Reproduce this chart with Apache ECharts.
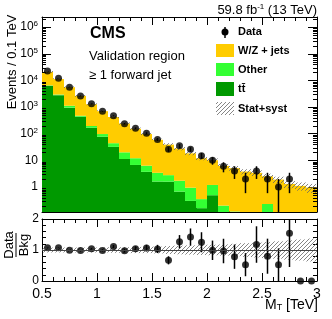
<!DOCTYPE html>
<html><head><meta charset="utf-8">
<script src="https://cdn.jsdelivr.net/npm/echarts@6/dist/echarts.min.js"></script>
<style>html,body{margin:0;padding:0;background:#fff}#c{width:332px;height:319px}</style>
</head><body><div id="c"></div>
<script>
// ---- data (bins of 0.1 TeV) ----
const binLow = [0.5,0.6,0.7,0.8,0.9,1.0,1.1,1.2,1.3,1.4,1.5,1.6,1.7,1.8,1.9,2.0,2.1,2.2,2.3,2.4,2.5,2.6,2.7,2.8,2.9];
const binWidth = 0.1;
const dataCounts = [22400,12000,5500,2580,1330,690,470,237,160,103,61,26,35,26,15,10,6,4,2,4,2,1,2,0,0];
const ttbar  = [6300,2800,950,433,167,77,32,11.2,6.7,3.7,1.6,1.58,0.67,0.30,0.16,0.49,0,0,0,0,0,0,0,0,0];
const other  = [200,150,170,37,27,20,12,8.8,5.3,2.6,1.8,1.2,1.05,0.64,0.19,0.7,0.2,0.12,0,0,0.23,0,0,0,0];
const wzJets = [14400,8250,4440,2160,1086,603,379,222,142,90.7,55.6,36.2,25.9,17.4,11.65,8.9,6.0,4.98,3.8,3.4,2.27,1.9,1.3,1.1,0.95];
const statSyst = [0.08,0.08,0.08,0.08,0.08,0.08,0.09,0.09,0.1,0.1,0.11,0.13,0.14,0.15,0.16,0.17,0.18,0.2,0.22,0.24,0.26,0.28,0.31,0.34,0.37];
const xTickLabels = [0.5,1,1.5,2,2.5,3];
const ratioTickLabels = [0,1,2];

const YMIN = 0.115, YMAX = 2.4e6;
const FONT = 'Liberation Sans, Arial, Helvetica, sans-serif';
const C_WZ = '#ffcc00', C_OTH = '#33ff33', C_TT = '#009900';

const total = binLow.map((_, i) => ttbar[i] + other[i] + wzJets[i]);

function hatchCanvas() {
  const s = 4, c = document.createElement('canvas');
  c.width = s; c.height = s;
  const g = c.getContext('2d');
  g.strokeStyle = '#666'; g.lineWidth = 0.8;
  g.beginPath();
  g.moveTo(0, s); g.lineTo(s, 0);
  g.moveTo(-1, 1); g.lineTo(1, -1);
  g.moveTo(s - 1, s + 1); g.lineTo(s + 1, s - 1);
  g.stroke();
  return c;
}
const HATCH = { image: hatchCanvas(), repeat: 'repeat' };

function cl(v) { return Math.max(v, YMIN); }
function rect(api, x0, x1, y0, y1, style) {
  const p0 = api.coord([x0, y0]), p1 = api.coord([x1, y1]);
  return { type: 'rect', shape: { x: p0[0], y: p1[1], width: p1[0] - p0[0], height: p0[1] - p1[1] }, style: style };
}

const chart = echarts.init(document.getElementById('c'), null, { renderer: 'canvas' });

const axisLineStyle = { lineStyle: { color: '#000', width: 1 } };
function xAx(grid, pos, labels) {
  return {
    type: 'value', gridIndex: grid, position: pos, min: 0.5, max: 3, interval: 0.5,
    axisLine: Object.assign({ show: true, onZero: false }, axisLineStyle),
    axisTick: { show: true, inside: true, length: 8, lineStyle: { color: '#000' } },
    minorTick: { show: true, splitNumber: 5, length: 4, lineStyle: { color: '#000' } },
    splitLine: { show: false },
    axisLabel: labels ? {
      show: true, margin: 6, color: '#000', fontFamily: FONT, fontSize: 14,
      formatter: v => xTickLabels.indexOf(+v.toFixed(2)) >= 0 ? String(+v.toFixed(2)) : ''
    } : { show: false }
  };
}
function yLog(pos, labels) {
  return {
    type: 'log', logBase: 10, gridIndex: 0, position: pos, min: YMIN, max: YMAX,
    axisLine: Object.assign({ show: true, onZero: false }, axisLineStyle),
    axisTick: { show: true, inside: true, length: 9, lineStyle: { color: '#000' } },
    splitLine: { show: false },
    axisLabel: labels ? {
      show: true, margin: 4, color: '#000', fontFamily: FONT, fontSize: 12,
      formatter: v => {
        const e = Math.log10(v), r = Math.round(e);
        if (Math.abs(e - r) > 1e-6) return '';
        if (r === 0) return '{b|1}';
        if (r === 1) return '{b|10}';
        return '{b|10}{s|' + r + '}';
      },
      rich: {
        b: { fontFamily: FONT, fontSize: 12, color: '#000', lineHeight: 14 },
        s: { fontFamily: FONT, fontSize: 8, color: '#000', verticalAlign: 'top', lineHeight: 14, padding: [0, 0, 6, 0] }
      }
    } : { show: false }
  };
}
function yRatio(pos, labels) {
  return {
    type: 'value', gridIndex: 1, position: pos, min: 0, max: 2, interval: 1,
    axisLine: Object.assign({ show: true, onZero: false }, axisLineStyle),
    axisTick: { show: true, inside: true, length: 8, lineStyle: { color: '#000' } },
    minorTick: { show: true, splitNumber: 5, length: 4, lineStyle: { color: '#000' } },
    splitLine: { show: false },
    axisLabel: labels ? { show: true, margin: 3, color: '#000', fontFamily: FONT, fontSize: 12,
      formatter: v => ratioTickLabels.indexOf(v) >= 0 ? String(v) : '' } : { show: false }
  };
}

const option = {
  animation: false,
  backgroundColor: '#fff',
  grid: [
    { left: 42, right: 15, top: 17, height: 195 },
    { left: 42, right: 15, top: 219, height: 62 }
  ],
  xAxis: [xAx(0, 'bottom', false), xAx(0, 'top', false), xAx(1, 'bottom', true), xAx(1, 'top', false)],
  yAxis: [yLog('left', true), yLog('right', false), yRatio('left', true), yRatio('right', false)],
  series: [
    { // stacked histograms
      type: 'custom', xAxisIndex: 0, yAxisIndex: 0, clip: true, silent: true,
      data: binLow.map((x, i) => [x, total[i], i]),
      encode: { x: 0, y: 1 },
      renderItem: (params, api) => {
        const i = api.value(2), x0 = binLow[i], x1 = x0 + binWidth;
        const c1 = ttbar[i], c2 = c1 + other[i], c3 = c2 + wzJets[i];
        const ch = [];
        if (c1 > YMIN) ch.push(rect(api, x0, x1, YMIN, cl(c1), { fill: C_TT }));
        if (c2 > YMIN && c2 > c1) ch.push(rect(api, x0, x1, cl(c1), cl(c2), { fill: C_OTH }));
        if (c3 > YMIN && c3 > c2) ch.push(rect(api, x0, x1, cl(c2), cl(c3), { fill: C_WZ }));
        return { type: 'group', children: ch };
      }
    },
    { // stat+syst band, top
      type: 'custom', xAxisIndex: 0, yAxisIndex: 0, clip: true, silent: true,
      data: binLow.map((x, i) => [x, total[i], i]),
      encode: { x: 0, y: 1 },
      renderItem: (params, api) => {
        const i = api.value(2), x0 = binLow[i];
        return rect(api, x0, x0 + binWidth, cl(total[i] * (1 - statSyst[i])), cl(total[i] * (1 + statSyst[i])), { fill: HATCH });
      }
    },
    { // minor log ticks
      type: 'custom', xAxisIndex: 0, yAxisIndex: 0, clip: true, silent: true,
      data: [[0.5, 1]],
      renderItem: (params, api) => {
        const xl = api.coord([0.5, 1])[0], xr = api.coord([3, 1])[0];
        const ch = [];
        for (let e = -1; e <= 6; e++) for (let m = 2; m <= 9; m++) {
          const v = m * Math.pow(10, e);
          if (v <= YMIN || v >= YMAX) continue;
          const y = Math.round(api.coord([0.5, v])[1]) + 0.5;
          ch.push({ type: 'line', shape: { x1: xl, y1: y, x2: xl + 4, y2: y }, style: { stroke: '#000', lineWidth: 1 } });
          ch.push({ type: 'line', shape: { x1: xr, y1: y, x2: xr - 4, y2: y }, style: { stroke: '#000', lineWidth: 1 } });
        }
        return { type: 'group', children: ch };
      }
    },
    { // data error bars, top
      type: 'custom', xAxisIndex: 0, yAxisIndex: 0, clip: true, silent: true,
      data: binLow.map((x, i) => [x + binWidth / 2, Math.max(dataCounts[i], YMIN), i]),
      encode: { x: 0, y: 1 },
      renderItem: (params, api) => {
        const i = api.value(2), n = dataCounts[i];
        if (n <= 0) return null;
        const e = Math.sqrt(n), xc = binLow[i] + binWidth / 2;
        const p0 = api.coord([xc, cl(n - e)]), p1 = api.coord([xc, n + e]);
        return { type: 'line', shape: { x1: p0[0], y1: p0[1], x2: p1[0], y2: p1[1] }, style: { stroke: '#000', lineWidth: 1.5 } };
      }
    },
    { // data points, top
      type: 'scatter', xAxisIndex: 0, yAxisIndex: 0, symbol: 'circle', symbolSize: 7, silent: true,
      itemStyle: { color: '#000' },
      data: binLow.map((x, i) => dataCounts[i] > 0 ? [x + binWidth / 2, dataCounts[i]] : null).filter(d => d)
    },
    { // ratio band
      type: 'custom', xAxisIndex: 2, yAxisIndex: 2, clip: true, silent: true,
      data: binLow.map((x, i) => [x, 1, i]),
      encode: { x: 0, y: 1 },
      renderItem: (params, api) => {
        const i = api.value(2), x0 = binLow[i];
        return rect(api, x0, x0 + binWidth, 1 - statSyst[i], 1 + statSyst[i], { fill: HATCH });
      }
    },
    { // ratio error bars
      type: 'custom', xAxisIndex: 2, yAxisIndex: 2, clip: true, silent: true,
      data: binLow.map((x, i) => [x + binWidth / 2, dataCounts[i] / total[i], i]),
      encode: { x: 0, y: 1 },
      renderItem: (params, api) => {
        const i = api.value(2), n = dataCounts[i];
        if (n <= 0) return null;
        const r = n / total[i], e = Math.sqrt(n) / total[i], xc = binLow[i] + binWidth / 2;
        const p0 = api.coord([xc, Math.max(r - e, 0)]), p1 = api.coord([xc, r + e]);
        return { type: 'line', shape: { x1: p0[0], y1: p0[1], x2: p1[0], y2: p1[1] }, style: { stroke: '#000', lineWidth: 1.5 } };
      }
    },
    { // ratio points
      type: 'scatter', xAxisIndex: 2, yAxisIndex: 2, symbol: 'circle', symbolSize: 7, silent: true,
      itemStyle: { color: '#000' },
      data: binLow.map((x, i) => [x + binWidth / 2, dataCounts[i] / total[i]]),
      markLine: {
        silent: true, symbol: 'none', label: { show: false },
        lineStyle: { color: '#444', type: 'solid', width: 1 },
        data: [{ yAxis: 1 }]
      }
    }
  ],
  graphic: [
    { type: 'text', left: 'auto', x: 317, y: 10, style: { text: '{n|59.8 fb}{s|-1}{n| (13 TeV)}', align: 'right', verticalAlign: 'middle',
        rich: { n: { fontFamily: FONT, fontSize: 13, color: '#000' }, s: { fontFamily: FONT, fontSize: 8, color: '#000', padding: [0, 0, 7, 0] } } } },
    { type: 'text', x: 90, y: 34, style: { text: 'CMS', fontFamily: FONT, fontSize: 16, fontWeight: 'bold', fill: '#000', verticalAlign: 'middle' } },
    { type: 'text', x: 89, y: 56, style: { text: 'Validation region', fontFamily: FONT, fontSize: 13, fill: '#000', verticalAlign: 'middle' } },
    { type: 'text', x: 89, y: 75, style: { text: '\u2265 1 forward jet', fontFamily: FONT, fontSize: 13, fill: '#000', verticalAlign: 'middle' } },
    { type: 'text', x: 12, y: 62, rotation: Math.PI / 2, style: { text: 'Events / 0.1 TeV', fontFamily: FONT, fontSize: 13, fill: '#000', align: 'center', verticalAlign: 'middle' } },
    // ratio axis title as fraction
    { type: 'text', x: 9, y: 245, rotation: Math.PI / 2, style: { text: 'Data', fontFamily: FONT, fontSize: 13, fill: '#000', align: 'center', verticalAlign: 'middle' } },
    { type: 'line', shape: { x1: 16, y1: 233, x2: 16, y2: 257 }, style: { stroke: '#000', lineWidth: 1 } },
    { type: 'text', x: 24, y: 245, rotation: Math.PI / 2, style: { text: 'Bkg', fontFamily: FONT, fontSize: 13, fill: '#000', align: 'center', verticalAlign: 'middle' } },
    // x axis title
    { type: 'text', x: 318, y: 305, style: { text: '{n|M}{t|T}{n| [TeV]}', align: 'right', verticalAlign: 'middle',
        rich: { n: { fontFamily: FONT, fontSize: 14, color: '#000' }, t: { fontFamily: FONT, fontSize: 9, color: '#000', padding: [6, 0, 0, 0] } } } },
    // legend
    { type: 'line', shape: { x1: 225, y1: 27, x2: 225, y2: 38 }, style: { stroke: '#000', lineWidth: 1.5 } },
    { type: 'circle', shape: { cx: 225, cy: 32, r: 3.5 }, style: { fill: '#000' } },
    { type: 'rect', shape: { x: 216, y: 44, width: 18, height: 13 }, style: { fill: C_WZ } },
    { type: 'rect', shape: { x: 216, y: 63, width: 18, height: 13 }, style: { fill: C_OTH } },
    { type: 'rect', shape: { x: 216, y: 82, width: 18, height: 14 }, style: { fill: C_TT } },
    { type: 'rect', shape: { x: 216, y: 102, width: 18, height: 13 }, style: { fill: HATCH } },
    { type: 'text', x: 238, y: 32, style: { text: 'Data', fontFamily: FONT, fontSize: 11, fontWeight: 'bold', fill: '#000', verticalAlign: 'middle' } },
    { type: 'text', x: 238, y: 51, style: { text: 'W/Z + jets', fontFamily: FONT, fontSize: 11, fontWeight: 'bold', fill: '#000', verticalAlign: 'middle' } },
    { type: 'text', x: 238, y: 70, style: { text: 'Other', fontFamily: FONT, fontSize: 11, fontWeight: 'bold', fill: '#000', verticalAlign: 'middle' } },
    { type: 'text', x: 238, y: 89, style: { text: 't\u0074\u0304', fontFamily: FONT, fontSize: 11, fontWeight: 'bold', fill: '#000', verticalAlign: 'middle' } },
    { type: 'text', x: 238, y: 109, style: { text: 'Stat+syst', fontFamily: FONT, fontSize: 11, fontWeight: 'bold', fill: '#000', verticalAlign: 'middle' } }
  ]
};
chart.setOption(option);
</script>
</body></html>
